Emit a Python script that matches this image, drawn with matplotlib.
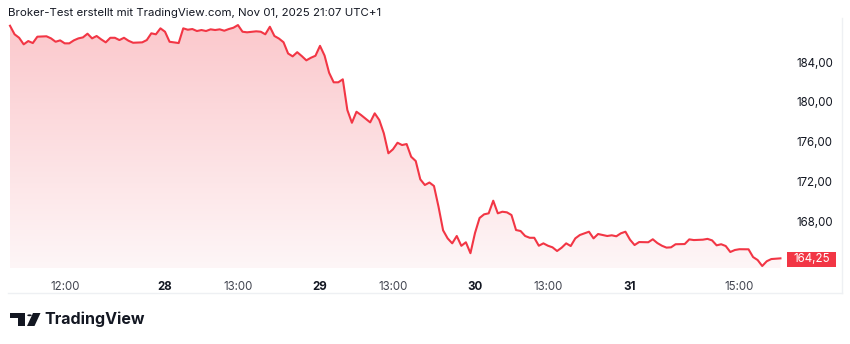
import numpy as np
import matplotlib.pyplot as plt
from matplotlib.patches import Rectangle, Circle, Polygon

# 15-min bars counted from Oct 27, 09:00 (Xetra session 09:00-17:30, 34 bars a day)
bar = [0, 1, 2, 3, 4, 5, 6, 8, 9, 10, 11, 12, 13, 14, 15, 16, 17, 18, 19, 20,
       21, 22, 23, 24, 25, 26, 27, 29, 30, 31, 32, 33, 34, 35, 37, 38, 39, 40, 41, 42,
       43, 44, 45, 46, 47, 48, 49, 50, 51, 52, 54, 55, 56, 57, 58, 59, 60, 61, 62, 63,
       64, 65, 66, 67, 68, 69, 70, 71, 72, 73, 74, 75, 76, 77, 79, 80, 81, 82, 83, 84,
       85, 86, 87, 88, 89, 90, 91, 92, 93, 94, 95, 96, 97, 98, 99, 100, 101, 102, 103, 104,
       105, 106, 107, 108, 109, 110, 111, 112, 113, 114, 115, 116, 117, 118, 119, 120, 121, 122, 123, 124,
       125, 126, 127, 128, 129, 130, 131, 132, 133, 134, 135, 136, 137, 138, 140, 141, 142, 143, 144, 145,
       146, 148, 149, 150, 152, 153, 154, 155, 156, 157, 158, 159, 160, 162, 163, 164, 165, 166, 167, 169]
price = [187.65, 186.79, 186.44, 185.78, 186.11, 185.91, 186.55, 186.59, 186.38, 186.04,
         186.18, 185.88, 185.88, 186.18, 186.38, 186.48, 186.85, 186.38, 186.62, 186.28,
         185.98, 186.44, 186.44, 186.21, 186.44, 186.14, 185.94, 185.98, 186.21, 186.89,
         186.79, 187.39, 187.05, 186.04, 185.91, 187.39, 187.25, 187.32, 187.12, 187.22,
         187.12, 187.29, 187.22, 187.29, 187.15, 187.32, 187.45, 187.72, 187.05, 186.99,
         187.09, 187.05, 186.79, 187.55, 186.62, 186.36, 185.99, 184.86, 184.57, 184.99,
         184.60, 184.17, 184.43, 184.63, 185.63, 184.65, 182.92, 181.96, 181.96, 182.26,
         179.17, 177.89, 179.00, 178.67, 177.93, 178.84, 178.17, 176.83, 174.82, 175.22,
         175.88, 175.65, 175.75, 174.47, 174.04, 172.20, 171.63, 171.88, 171.53, 169.44,
         167.07, 166.26, 165.76, 166.50, 165.51, 165.87, 164.77, 166.80, 168.31, 168.68,
         168.78, 170.05, 168.78, 168.94, 168.88, 168.61, 167.10, 167.00, 166.50, 166.32,
         166.32, 165.52, 165.76, 165.52, 165.36, 164.99, 165.32, 165.76, 165.49, 166.26,
         166.60, 166.77, 166.93, 166.26, 166.70, 166.60, 166.50, 166.57, 166.47, 166.77,
         166.93, 166.13, 165.59, 165.89, 165.87, 166.17, 165.79, 165.52, 165.33, 165.36,
         165.67, 165.69, 166.16, 166.09, 166.13, 166.21, 166.06, 165.56, 165.67, 165.49,
         164.89, 165.09, 165.17, 165.16, 164.38, 164.08, 163.48, 163.96, 164.18, 164.25]

tick_bars = [12, 34, 50, 68, 84, 102, 118, 136, 160]
tick_labels = ["12:00", "28", "13:00", "29", "13:00", "30", "13:00", "31", "15:00"]
day_ticks = ["28", "29", "30", "31"]
y_ticks = [168, 172, 176, 180, 184]
last_price = 164.25

title = "Broker-Test erstellt mit TradingView.com, Nov 01, 2025 21:07 UTC+1"

W, H = 850, 344
plt.rcParams['font.family'] = ['Inter', 'DejaVu Sans']
fig = plt.figure(figsize=(W / 100, H / 100), dpi=100)
fig.patch.set_facecolor('white')


def fx(px):
    return px / W


def fy(py):
    return 1 - py / H


red = '#F23645'
ax = fig.add_axes([fx(8), fy(268), (785 - 8) / W, (268 - 18) / H])
x0, x1 = -0.44, 170
y0, y1 = 163.28, 188.43
ax.set_xlim(x0, x1)
ax.set_ylim(y0, y1)

# gradient area under the line
top = np.array([251, 199, 203, 255]) / 255
bot = np.array([254, 246, 247, 255]) / 255
t = np.linspace(0, 1, 256)[:, None, None]
grad = top * (1 - t) + bot * t
im = ax.imshow(grad, extent=[x0, x1, y0, y1], aspect='auto', origin='upper', zorder=1)
verts = list(zip(bar, price)) + [(bar[-1], y0), (bar[0], y0)]
clip = Polygon(verts, closed=True, transform=ax.transData, facecolor='none', edgecolor='none')
ax.add_patch(clip)
im.set_clip_path(clip)

ax.plot(bar, price, color=red, lw=1.5, solid_joinstyle='round', zorder=3)

for s in ax.spines.values():
    s.set_visible(False)

ax.yaxis.tick_right()
ax.set_yticks(y_ticks)
ax.set_yticklabels([f"{v:.2f}".replace('.', ',') for v in y_ticks])
ax.tick_params(axis='y', length=0, pad=8, labelsize=8.3, labelcolor='#131722')

ax.set_xticks(tick_bars)
ax.set_xticklabels(tick_labels)
ax.tick_params(axis='x', length=0, pad=9, labelsize=8.3, labelcolor='#434651')
for lab in ax.get_xticklabels():
    if lab.get_text() in day_ticks:
        lab.set_fontweight('bold')
        lab.set_color('#131722')

# price label on the right scale
fig.patches.append(Rectangle((fx(787), fy(266.5)), 49 / W, 14.5 / H, transform=fig.transFigure,
                             facecolor=red, edgecolor='none'))
fig.text(fx(811.5), fy(259.5), f"{last_price:.2f}".replace('.', ','), color='white',
         fontsize=8.3, ha='center', va='center')

# pane frame
fig.add_artist(plt.Line2D([fx(8), fx(842)], [fy(293), fy(293)], color='#EEF0F3', lw=1))
fig.add_artist(plt.Line2D([fx(842), fx(842)], [fy(18), fy(293)], color='#EEF0F3', lw=1))

fig.text(fx(8), fy(13), title, fontsize=8.25, color='#131722', va='center', ha='left')

# TradingView logo
dark = '#131722'
fig.patches.append(Rectangle((fx(10), fy(317.5)), 15 / W, 4.5 / H, transform=fig.transFigure,
                             facecolor=dark, edgecolor='none'))
fig.patches.append(Rectangle((fx(18), fy(326)), 7 / W, 13 / H, transform=fig.transFigure,
                             facecolor=dark, edgecolor='none'))
fig.patches.append(Circle((fx(29.5), fy(315.3)), 2.3 / W, transform=fig.transFigure,
                          facecolor=dark, edgecolor='none'))
fig.patches.append(Polygon([(fx(33), fy(313)), (fx(40.5), fy(313)), (fx(34.5), fy(326)),
                            (fx(27), fy(326))], closed=True, transform=fig.transFigure,
                           facecolor=dark, edgecolor='none'))
fig.text(fx(44), fy(319.5), "TradingView", fontsize=11.5, fontweight='bold', color=dark,
         va='center', ha='left')

fig.savefig('out.png', dpi=100)
